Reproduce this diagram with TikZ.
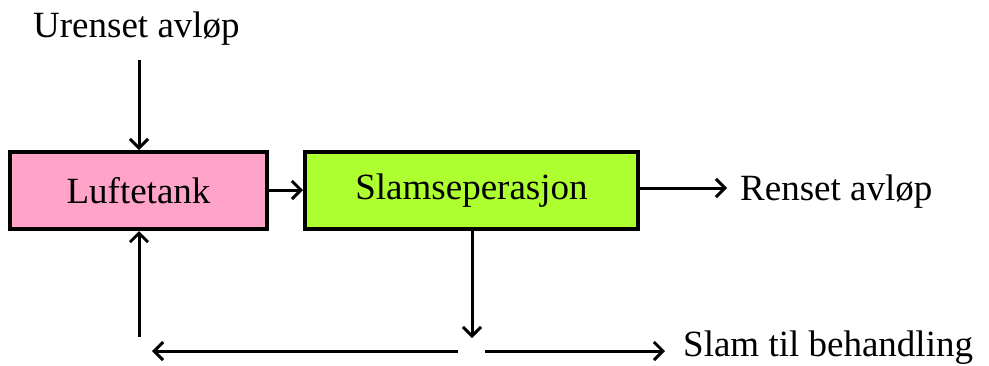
\documentclass[tikz,border=0pt]{standalone}
\usepackage{fontspec}
\setmainfont{Liberation Serif}
\usetikzlibrary{arrows.meta}
\definecolor{pinkfill}{RGB}{255,163,200}
\definecolor{greenfill}{RGB}{173,255,47}
\begin{document}
\begin{tikzpicture}[x=1pt,y=-1pt,
  every node/.style={font=\fontsize{37}{40}\selectfont, inner sep=0pt},
  box/.style={draw=black, line width=4pt, minimum height=77pt},
  flow/.style={line width=3pt, -{Straight Barb[length=9pt,width=18pt,line width=3pt]}},
  plain/.style={line width=3pt}]
\useasboundingbox (0,0) rectangle (989,365);
\node[box, fill=pinkfill, minimum width=257pt] (luft) at (138.5,190.5) {Luftetank};
\node[box, fill=greenfill, minimum width=333pt] (slam) at (471.5,190.5) {Slamseperasjon};
\node[anchor=base west] (uren) at (33,37) {Urenset avløp};
\node[anchor=base west] (rens) at (740,200) {Renset avløp};
\node[anchor=base west] (beh) at (683,356) {Slam til behandling};
\coordinate (uTop) at (139,60);
\coordinate (split) at (472,338);
\coordinate (leftEnd) at (458,351);
\coordinate (leftTip) at (152,351);
\coordinate (rightStart) at (485,351);
\coordinate (rightTip) at (665,351);
\coordinate (retBottom) at (139,337);
\coordinate (rensTip) at (727,188);
\draw[flow] (uTop) -- (uTop |- luft.north);
\draw[flow] (luft.east |- 0,190) -- (slam.west |- 0,190);
\draw[flow] (slam.east |- 0,188) -- (rensTip);
\draw[flow] (slam.south -| split) -- (split);
\draw[flow] (leftEnd) -- (leftTip);
\draw[flow] (rightStart) -- (rightTip);
\draw[flow] (retBottom) -- (retBottom |- luft.south);
\end{tikzpicture}
\end{document}
